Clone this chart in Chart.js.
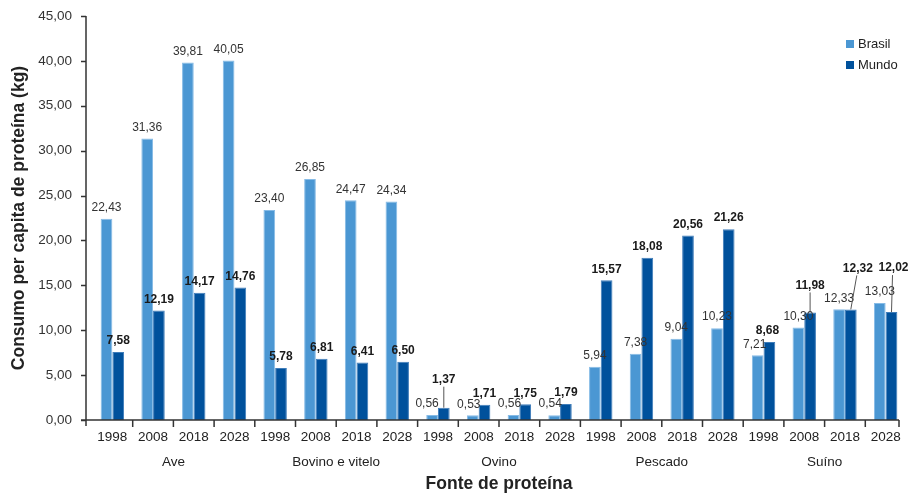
<!DOCTYPE html>
<html>
<head>
<meta charset="utf-8">
<script src="https://cdn.jsdelivr.net/npm/chart.js"></script>
<style>
  html, body { margin: 0; padding: 0; background: #fff; }
  #wrap { width: 911px; height: 493px; }
</style>
</head>
<body>
<div id="wrap"><canvas id="grafico"></canvas></div>
<script>
// dados
const proteinas = ['Ave', 'Bovino e vitelo', 'Ovino', 'Pescado', 'Suíno'];
const anos = ['1998', '2008', '2018', '2028'];
const brasil = [22.43, 31.36, 39.81, 40.05, 23.40, 26.85, 24.47, 24.34, 0.56, 0.53, 0.56, 0.54, 5.94, 7.38, 9.04, 10.23, 7.21, 10.30, 12.33, 13.03];
const mundo = [7.58, 12.19, 14.17, 14.76, 5.78, 6.81, 6.41, 6.50, 1.37, 1.71, 1.75, 1.79, 15.57, 18.08, 20.56, 21.26, 8.68, 11.98, 12.32, 12.02];
const yTicks = [0, 5, 10, 15, 20, 25, 30, 35, 40, 45];

const categorias = [];
proteinas.forEach(p => anos.forEach(a => categorias.push(a)));

const fmt = v => v.toFixed(2).replace('.', ',');

// ajustes de posição de alguns rótulos (dataset:índice)
const ajustes = {
  '0:8': { dx: -5 }, '0:9': { dx: -4 }, '0:10': { dx: -4 }, '0:11': { dx: -4 },
  '0:16': { dx: -3 }, '1:16': { dx: -2 },
  '1:8': { dy: -17, linha: true },
  '1:17': { dy: -16, linha: true },
  '1:18': { dx: 7, dy: -30, linha: true },
  '1:19': { dx: 2, dy: -33, linha: true }
};

const FONTE = 'Liberation Sans, Arial, sans-serif';

const extras = {
  id: 'extras',
  afterDatasetsDraw(chart) {
    const { ctx, chartArea, scales: { x, y } } = chart;
    const eixoX = chartArea.left - 6;
    const base = chartArea.bottom;
    const largura = (chartArea.right - chartArea.left) / categorias.length;
    const fimX = chartArea.left + largura * categorias.length - 7;

    ctx.save();
    ctx.strokeStyle = '#333';
    ctx.lineWidth = 1.5;
    ctx.beginPath();
    // eixo vertical
    ctx.moveTo(eixoX, chartArea.top);
    ctx.lineTo(eixoX, base + 6);
    // eixo horizontal
    ctx.moveTo(eixoX - 5, base);
    ctx.lineTo(fimX, base);
    // marcas do eixo y
    yTicks.forEach(t => {
      const py = Math.round(y.getPixelForValue(t)) + 0.5;
      ctx.moveTo(eixoX - 5, py);
      ctx.lineTo(eixoX, py);
    });
    // marcas entre categorias
    for (let i = 1; i <= categorias.length; i++) {
      const px = i === categorias.length ? fimX : x.getPixelForValue(i) - largura / 2;
      ctx.moveTo(px, base);
      ctx.lineTo(px, base + 7);
    }
    ctx.stroke();

    // nomes das proteínas
    ctx.fillStyle = '#222';
    ctx.font = '13.5px ' + FONTE;
    ctx.textAlign = 'center';
    ctx.textBaseline = 'middle';
    proteinas.forEach((p, g) => {
      const cx = (x.getPixelForValue(g * 4) + x.getPixelForValue(g * 4 + 3)) / 2;
      ctx.fillText(p, cx, 462);
    });

    // rótulos de valores
    chart.data.datasets.forEach((ds, di) => {
      const meta = chart.getDatasetMeta(di);
      ctx.font = (di === 1 ? 'bold 12px ' : '12px ') + FONTE;
      ctx.fillStyle = di === 1 ? '#1a1a1a' : '#333';
      meta.data.forEach((bar, i) => {
        const aj = ajustes[di + ':' + i] || {};
        const cx = bar.x + (aj.dx || 0);
        const cy = bar.y - 11 + (aj.dy || 0);
        if (aj.linha) {
          ctx.strokeStyle = '#555';
          ctx.lineWidth = 1;
          ctx.beginPath();
          ctx.moveTo(cx - (aj.dx ? 1 : 0), cy + 7);
          ctx.lineTo(bar.x, bar.y);
          ctx.stroke();
        }
        ctx.fillText(fmt(ds.data[i]), cx, cy);
      });
    });

    // legenda
    ctx.font = '13px ' + FONTE;
    ctx.textAlign = 'left';
    chart.data.datasets.forEach((ds, di) => {
      const ly = 44 + di * 21;
      ctx.fillStyle = ds.backgroundColor;
      ctx.fillRect(846, ly - 4, 8, 8);
      ctx.fillStyle = '#222';
      ctx.fillText(ds.label, 858, ly);
    });
    ctx.restore();
  }
};

new Chart(document.getElementById('grafico'), {
  type: 'bar',
  data: {
    labels: categorias,
    datasets: [
      { label: 'Brasil', data: brasil, backgroundColor: '#4B97D3', borderColor: '#86BBE6', borderWidth: 1,
        categoryPercentage: 0.575, barPercentage: 1.0 },
      { label: 'Mundo', data: mundo, backgroundColor: '#00519C', borderColor: '#3F7DBA', borderWidth: 1,
        categoryPercentage: 0.575, barPercentage: 1.0 }
    ]
  },
  options: {
    responsive: true,
    maintainAspectRatio: false,
    animation: false,
    layout: { padding: { left: 0, right: 5, top: 16, bottom: 0 } },
    plugins: { legend: { display: false }, tooltip: { enabled: false } },
    scales: {
      x: {
        grid: { display: false, drawTicks: false },
        border: { display: false },
        ticks: { color: '#222', font: { family: FONTE, size: 13.5 }, padding: 9, maxRotation: 0, autoSkip: false },
        title: { display: true, text: 'Fonte de proteína', color: '#222',
                 font: { family: FONTE, size: 17.5, weight: 'bold', lineHeight: 1 }, padding: { top: 0, bottom: 0 } },
        afterFit: s => { s.height = 73; s.paddingLeft = 0; s.paddingRight = 0; }
      },
      y: {
        min: 0, max: 45,
        afterBuildTicks: s => { s.ticks = yTicks.map(v => ({ value: v })); },
        grid: { display: false, drawTicks: false },
        border: { display: false },
        ticks: { color: '#333', font: { family: FONTE, size: 13.5 }, padding: 20, callback: v => fmt(v) },
        title: { display: true, text: 'Consumo per capita de proteína (kg)', color: '#222',
                 font: { family: FONTE, size: 17.5, weight: 'bold', lineHeight: 1 }, padding: { top: 10, bottom: 0 } },
        afterFit: s => { s.width = 92; s.paddingTop = 0; s.paddingBottom = 0; }
      }
    }
  },
  plugins: [extras]
});
</script>
</body>
</html>
